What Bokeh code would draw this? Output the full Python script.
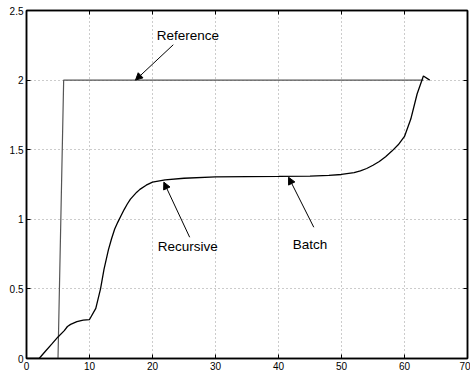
from bokeh.plotting import figure
from bokeh.models import (Range1d, FixedTicker, LinearAxis, ColumnDataSource, Arrow, NormalHead,
                          CustomLabelingPolicy)
from bokeh.core.properties import value
from bokeh.embed import file_html
from bokeh.resources import INLINE

# ---- data ----
curve_x = [0, 2, 3, 4, 5, 6, 6.5, 7, 8, 9, 10, 11, 11.75, 12.3, 13, 13.5, 14, 14.5, 15, 15.5, 16,
           16.5, 17, 17.5, 18, 19, 20, 22, 25, 30, 35, 40, 45, 48, 50, 52, 53, 54, 55, 56, 57, 58,
           59, 60, 61, 62, 63, 64]
curve_y = [0, 0, 0.052, 0.103, 0.155, 0.2, 0.23, 0.245, 0.265, 0.275, 0.28, 0.36, 0.5, 0.64, 0.78,
           0.86, 0.93, 0.98, 1.025, 1.07, 1.11, 1.145, 1.17, 1.195, 1.215, 1.245, 1.267, 1.283,
           1.295, 1.305, 1.307, 1.308, 1.31, 1.315, 1.322, 1.335, 1.348, 1.365, 1.388, 1.415, 1.45,
           1.49, 1.535, 1.595, 1.72, 1.9, 2.03, 2.0]

ref_x = [0, 5, 5.9, 63]
ref_y = [0, 0, 2, 2]

label_text = ["Reference", "Recursive", "Batch"]
label_x = [25.6, 25.6, 45.0]
label_y = [2.317, 0.805, 0.819]
arrow_x_start = [23.3, 25.9, 45.6]
arrow_y_start = [2.254, 0.871, 0.943]
arrow_x_end = [17.3, 21.8, 41.6]
arrow_y_end = [2.0, 1.267, 1.302]

x_ticks = [0, 10, 20, 30, 40, 50, 60, 70]
y_ticks = [0, 0.5, 1, 1.5, 2, 2.5]
y_tick_labels = ["0", "0.5", "1", "1.5", "2", "2.5"]

FONT = "Liberation Sans"

p = figure(width=470, height=375, output_backend="svg", toolbar_location=None,
           x_range=Range1d(0, 70), y_range=Range1d(0, 2.5),
           min_border_left=26, min_border_right=3, min_border_top=10, min_border_bottom=17,
           background_fill_color="white", border_fill_color="white")

p.outline_line_color = "black"
p.outline_line_width = 1.5

# grids
for g in (p.xgrid, p.ygrid):
    g.grid_line_color = "#999999"
    g.grid_line_dash = "1 3"
    g.grid_line_width = 1
p.xgrid.ticker = FixedTicker(ticks=x_ticks)
p.ygrid.ticker = FixedTicker(ticks=y_ticks)

def style_axis(ax, show_labels=True):
    ax.axis_line_color = "black"
    ax.axis_line_width = 1.5
    ax.major_tick_in = 4
    ax.major_tick_out = 0
    ax.minor_tick_in = 0
    ax.minor_tick_out = 0
    ax.major_tick_line_color = "black"
    ax.major_label_text_font = FONT
    ax.major_label_text_color = "black"
    if show_labels:
        ax.major_label_text_font_size = "10px"
        ax.major_label_standoff = 3
    else:
        ax.major_label_policy = CustomLabelingPolicy(code="return []")
        ax.major_label_text_font_size = "1px"
        ax.major_label_text_alpha = 0
        ax.major_label_standoff = 0

p.xaxis.ticker = FixedTicker(ticks=x_ticks)
p.xaxis.major_label_overrides = {t: str(t) for t in x_ticks}
p.yaxis.ticker = FixedTicker(ticks=y_ticks)
p.yaxis.major_label_overrides = {t: s for t, s in zip(y_ticks, y_tick_labels)}
style_axis(p.xaxis[0])
style_axis(p.yaxis[0])

top = LinearAxis(ticker=FixedTicker(ticks=x_ticks))
right = LinearAxis(ticker=FixedTicker(ticks=y_ticks))
style_axis(top, False)
style_axis(right, False)
p.add_layout(top, "above")
p.add_layout(right, "right")

# lines
p.line(ref_x, ref_y, line_color="#555555", line_width=1.2)
p.line(curve_x, curve_y, line_color="black", line_width=1.3)

# annotations
for xs, ys, xe, ye in zip(arrow_x_start, arrow_y_start, arrow_x_end, arrow_y_end):
    p.add_layout(Arrow(end=NormalHead(size=7, fill_color="black", line_color="black"),
                       x_start=xs, y_start=ys, x_end=xe, y_end=ye,
                       line_color="black", line_width=1))

src = ColumnDataSource(dict(x=label_x, y=label_y, t=label_text))
p.text(x="x", y="y", text="t", source=src, text_font=value(FONT), text_font_size="13.5px",
       text_align="center", text_baseline="middle", text_color="black")

open("out.html", "w").write(file_html(p, INLINE))
